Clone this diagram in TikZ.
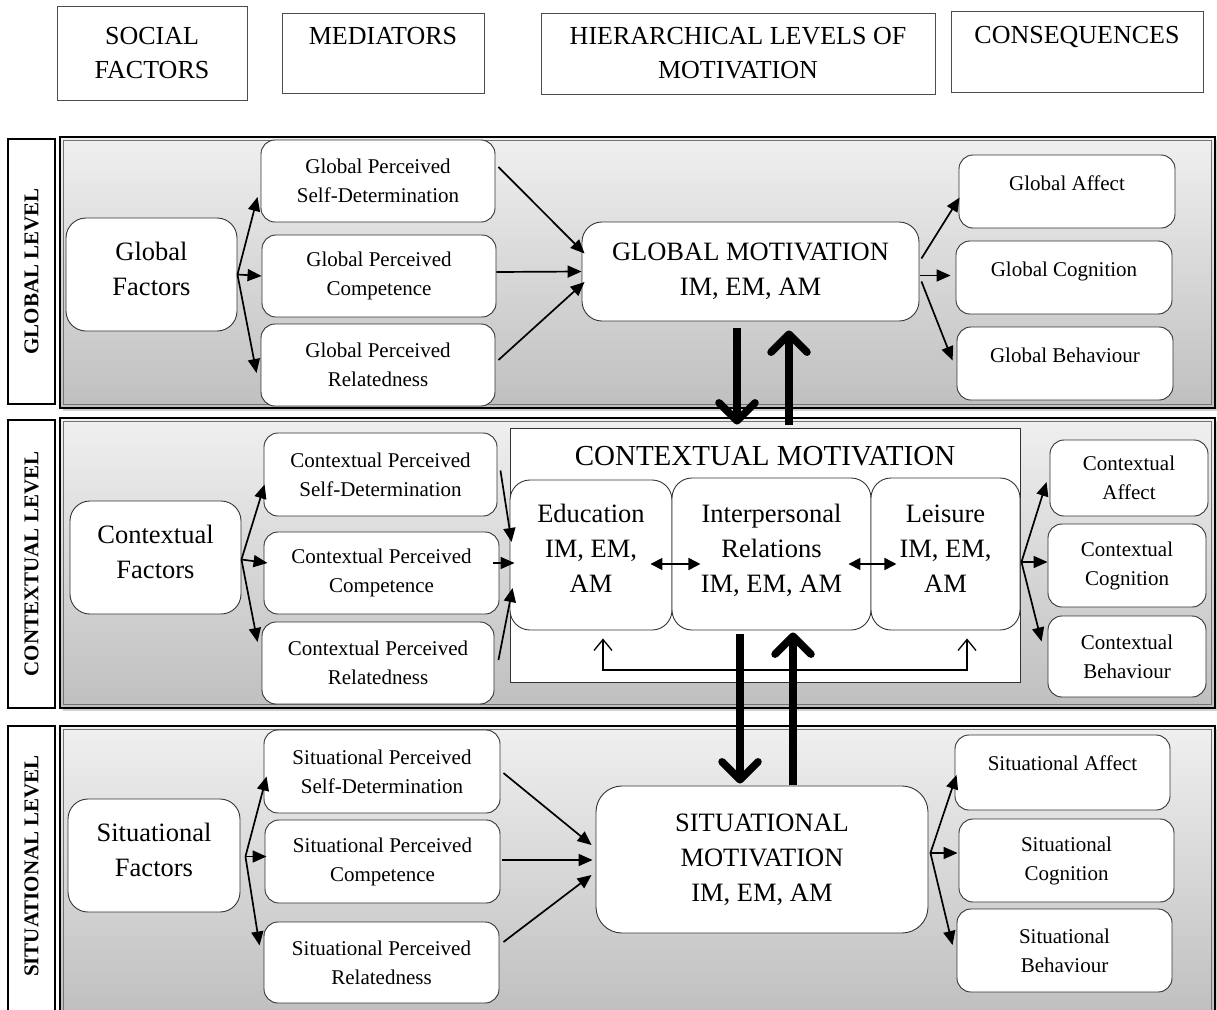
\documentclass[tikz,border=0pt]{standalone}
\usepackage{fontspec}
\setmainfont{Liberation Serif}
\usetikzlibrary{arrows.meta,calc}
\begin{document}
\begin{tikzpicture}[x=1pt,y=-1pt,
  sz/.style 2 args={minimum width=#1pt,minimum height=#2pt},
  hdr/.style={draw=black!70,line width=0.9pt,inner sep=0pt,align=center,
    font=\fontsize{26}{34}\selectfont},
  rbox/.style={draw=black!80,fill=white,line width=0.9pt,inner sep=0pt,align=center},
  small/.style={rbox,rounded corners=14pt,font=\fontsize{21}{29}\selectfont},
  large/.style={rbox,rounded corners=20pt,font=\fontsize{26.5}{35}\selectfont},
  lvlbox/.style={draw=black,fill=white,line width=1.6pt,inner sep=0pt},
  lvltxt/.style={rotate=90,inner sep=0pt,font=\fontsize{21}{25}\bfseries\selectfont},
  arr/.style={line width=1.7pt,-{Triangle[length=14pt,width=12pt]}},
  darr/.style={line width=1.7pt,{Triangle[length=12pt,width=12pt]}-{Triangle[length=12pt,width=12pt]}},
  bigarr/.style={line width=7.5pt,-{Straight Barb[length=18pt,width=36pt,round]}},
  fbarr/.style={line width=1.3pt,{Straight Barb[length=11pt,width=18pt]}-{Straight Barb[length=11pt,width=18pt]}},
  panelshade/.style={top color=gray!12,bottom color=gray!50},
]
\useasboundingbox (0,0) rectangle (1217,1009);

% ---------- column headings ----------
\node[hdr,sz={190}{94}] (hsoc)  at (152,53)    {SOCIAL\\FACTORS};
\node[hdr,sz={202}{80}] (hmed)  at (383,53)    {MEDIATORS\\~};
\node[hdr,sz={394}{81}] (hhier) at (738,53.5)  {HIERARCHICAL LEVELS OF\\MOTIVATION};
\node[hdr,sz={252}{81}] (hcons) at (1077,51.5) {CONSEQUENCES\\~};

% ---------- level panels (gradient bands) ----------
\foreach \ya/\yb in {137/408, 418/708, 726/1015}{
  \fill[black!40,opacity=0.45] (63,\ya+3) rectangle (1218,\yb+3);
  \shade[panelshade] (60,\ya) rectangle (1215,\yb);
  \draw[line width=2.2pt] (60,\ya) rectangle (1215,\yb);
  \draw[line width=0.6pt,black!55] (63.5,\ya+3.5) rectangle (1211.5,\yb-3.5);
}

% ---------- level labels ----------
\node[lvlbox,sz={47}{265}] (lg) at (31.5,271.5) {};
\node[lvltxt] at (lg.center) {GLOBAL LEVEL};
\node[lvlbox,sz={47}{288}] (lc) at (31.5,564) {};
\node[lvltxt] at (lc.center) {CONTEXTUAL LEVEL};
\node[lvlbox,sz={47}{289}] (ls) at (31.5,870.5) {};
\node[lvltxt] at (31.5,866) {SITUATIONAL LEVEL};

% ---------- global level ----------
\node[large,sz={171}{113}] (gf)   at (151.5,274.5) {Global\\Factors\\[-23pt]~};
\node[small,sz={234}{82}]  (gsd)  at (378,181)     {Global Perceived\\Self-Determination};
\node[small,sz={234}{82}]  (gcp)  at (379,276)     {Global Perceived\\Competence};
\node[small,sz={234}{82}]  (grel) at (378,365)     {Global Perceived\\Relatedness};
\node[large,sz={337}{99}]  (gm)   at (750.5,271.5) {GLOBAL MOTIVATION\\IM, EM, AM};
\node[small,sz={216}{73}]  (gaff) at (1067,191.5)  {Global Affect\\[-12pt]~};
\node[small,sz={216}{73}]  (gcog) at (1064,277.5)  {Global Cognition\\[-12pt]~};
\node[small,sz={216}{73}]  (gbeh) at (1065,363.5)  {Global Behaviour\\[-12pt]~};

\draw[arr] (gf.east) -- ($(gsd.west)+(-3,16)$);
\draw[arr] (gf.east) -- (gcp.west);
\draw[arr] (gf.east) -- ($(grel.west)+(-4,8)$);

\draw[arr] ($(gsd.east)+(3,-14)$) -- ($(gm.west)+(3,-18)$);
\draw[arr] ($(gcp.east)+(0,-4)$)  -- ($(gm.west)+(0,0)$);
\draw[arr] ($(grel.east)+(3,-5)$) -- ($(gm.west)+(3,10.5)$);

\draw[arr] ($(gm.east)+(2,-13)$) -- ($(gaff.west)+(1,6)$);
\draw[arr] ($(gm.east)+(1,4)$)   -- ($(gcog.west)+(-5,-2)$);
\draw[arr] ($(gm.east)+(2,10)$)  -- ($(gbeh.west)+(-4,-3)$);

% ---------- contextual level ----------
\node[large,sz={171}{113}] (cf)   at (155.5,557.5) {Contextual\\Factors\\[-23pt]~};
\node[small,sz={233}{83}]  (csd)  at (380.5,474.5) {Contextual Perceived\\Self-Determination};
\node[small,sz={235}{82}]  (ccp)  at (381.5,573)   {Contextual Perceived\\Competence};
\node[small,sz={232}{82}]  (crel) at (378,663)     {Contextual Perceived\\Relatedness};

\node[draw=black!80,fill=white,line width=0.9pt,inner sep=0pt,sz={510}{254}] (cbox) at (765,555) {};
\node[font=\fontsize{29}{34}\selectfont,inner sep=0pt] (ctitle) at (765,456) {CONTEXTUAL MOTIVATION};
\node[large,sz={162}{150}] (cedu) at (591,555)   {Education\\IM, EM,\\AM\\[-21pt]~};
\node[large,sz={199}{152}] (cint) at (771.5,554) {Interpersonal\\Relations\\IM, EM, AM\\[-24pt]~};
\node[large,sz={149}{152}] (clei) at (945.5,554) {Leisure\\IM, EM,\\AM\\[-24pt]~};

\node[small,sz={158}{76}]  (caff) at (1129,478)   {Contextual\\Affect};
\node[small,sz={158}{83}]  (ccog) at (1127,565.5) {Contextual\\Cognition};
\node[small,sz={158}{81}]  (cbeh) at (1127,656.5) {Contextual\\Behaviour};

\draw[arr] ($(cf.east)+(0,2)$) -- ($(csd.west)+(1,10)$);
\draw[arr] ($(cf.east)+(0,2)$) -- ($(ccp.west)+(4,-10)$);
\draw[arr] ($(cf.east)+(0,2)$) -- ($(crel.west)+(-4,-21)$);

\draw[arr] ($(csd.east)+(3,-4)$)   -- ($(cedu.west)+(2,-13)$);
\draw[arr] ($(ccp.east)+(-6,-10)$) -- ($(cedu.west)+(5,8)$);
\draw[arr] ($(crel.east)+(4,-3)$)  -- ($(cedu.west)+(3,33)$);

\draw[darr] ($(cedu.east)+(-22,9)$) -- ($(cedu.east)+(28,9)$);
\draw[darr] ($(cint.east)+(-23,10)$) -- ($(cint.east)+(25,10)$);

\coordinate (fbl) at ($(cedu.south)+(12,8)$);
\coordinate (fbr) at ($(clei.south)+(21.5,8)$);
\coordinate (fbb) at (0,670);
\draw[fbarr] (fbl) -- (fbl |- fbb) -- (fbr |- fbb) -- (fbr);

\draw[arr] ($(clei.east)+(1,8)$) -- ($(caff.west)+(-3,4)$);
\draw[arr] ($(clei.east)+(1,8)$) -- ($(ccog.west)+(0,-3.5)$);
\draw[arr] ($(clei.east)+(1,8)$) -- ($(cbeh.west)+(-6,-15)$);

% ---------- situational level ----------
\node[large,sz={172}{113}] (sf)   at (154,855.5)   {Situational\\Factors\\[-23pt]~};
\node[small,sz={236}{83}]  (ssd)  at (382,771.5)   {Situational Perceived\\Self-Determination};
\node[small,sz={235}{83}]  (scp)  at (382.5,861.5) {Situational Perceived\\Competence};
\node[small,sz={235}{81}]  (srel) at (381.5,962.5) {Situational Perceived\\Relatedness};
\node[large,rounded corners=26pt,sz={332}{147}] (sm) at (762,859.5) {SITUATIONAL\\MOTIVATION\\IM, EM, AM};
\node[small,sz={215}{75}]  (saff) at (1062.5,772.5) {Situational Affect\\[-10pt]~};
\node[small,sz={215}{83}]  (scog) at (1066.5,860.5) {Situational\\Cognition};
\node[small,sz={215}{83}]  (sbeh) at (1064.5,950.5) {Situational\\Behaviour};

\draw[arr] ($(sf.east)+(5,1)$) -- ($(ssd.west)+(3,5)$);
\draw[arr] ($(sf.east)+(5,1)$) -- ($(scp.west)+(2,-5)$);
\draw[arr] ($(sf.east)+(5,1)$) -- ($(srel.west)+(-4,-17)$);

\draw[arr] ($(ssd.east)+(3,1.5)$)   -- ($(sm.west)+(-4,-14.5)$);
\draw[arr] ($(scp.east)+(2,-1.5)$)  -- ($(sm.west)+(-3,0.5)$);
\draw[arr] ($(srel.east)+(4,-20.5)$) -- ($(sm.west)+(-4,15.5)$);

\draw[arr] ($(sm.east)+(2,-6.5)$) -- ($(saff.west)+(2,2.5)$);
\draw[arr] ($(sm.east)+(2,-6.5)$) -- ($(scog.west)+(-1,-7.5)$);
\draw[arr] ($(sm.east)+(2,-6.5)$) -- ($(sbeh.west)+(-4,-5.5)$);

% ---------- links between levels ----------
\draw[bigarr] ($(gm.south)+(-13.5,7)$) -- ($(cbox.north)+(-28,-3)$);
\draw[bigarr] ($(cbox.north)+(24,-3)$) -- ($(gm.south)+(38.5,9)$);
\draw[bigarr] ($(cint.south)+(-31.5,4)$) -- ($(sm.north)+(-22,-2)$);
\draw[bigarr] ($(sm.north)+(31,-1)$) -- ($(cint.south)+(21.5,2)$);
\end{tikzpicture}
\end{document}
